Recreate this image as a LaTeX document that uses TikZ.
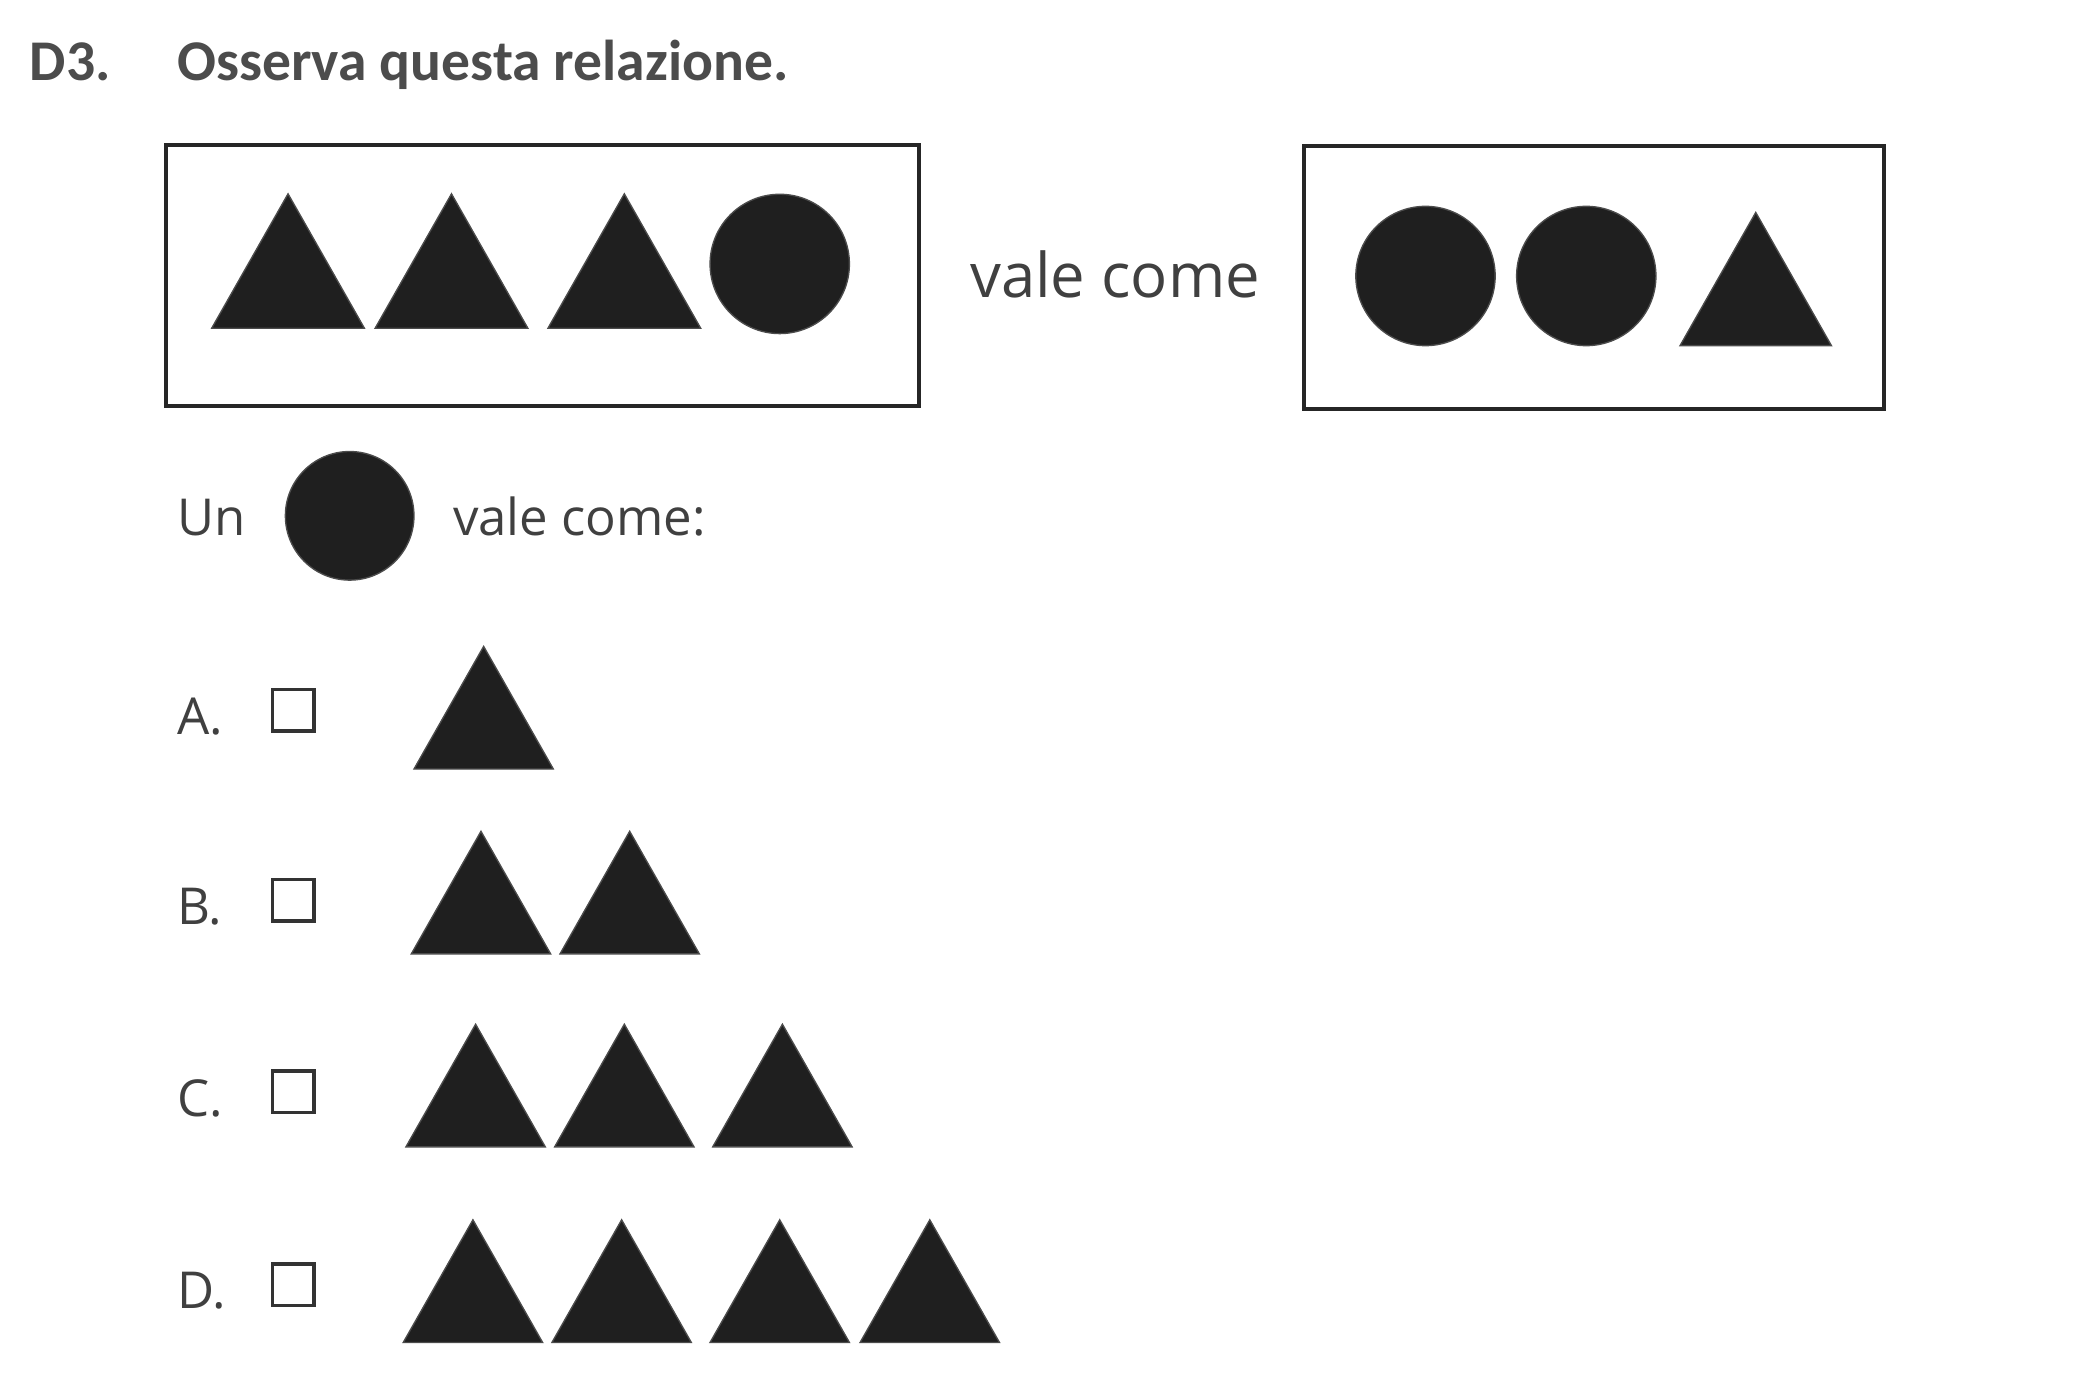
\documentclass[tikz,border=0pt]{standalone}
\usepackage{fontspec}
\setmainfont{Carlito}
\newfontfamily\bodyfont{Open Sans}
\usetikzlibrary{positioning}
\definecolor{txtgray}{HTML}{404040}
\tikzset{
  solid shape/.style={fill=black!88,draw=black!70,line width=1pt},
  frame/.style={draw=black!85,line width=3pt},
  txt/.style={anchor=base west,inner sep=0pt,text=txtgray,font=\bodyfont\fontsize{38}{42}\selectfont},
  title/.style={txt,font=\fontsize{43}{47}\selectfont\bfseries,text=black!70},
  cbox/.style={draw=black!80,line width=2.5pt,minimum size=31pt,inner sep=0pt},
  pics/tri/.style={code={\draw[solid shape] (0,0) -- (#1,0) -- (#1/2,-0.88*#1) -- cycle;}}
}
\begin{document}
\begin{tikzpicture}[x=1pt,y=-1pt]
\useasboundingbox (0,0) rectangle (1560,1037);
% title
\node[title] (num) at (22,60) {D3.};
\node[title] (q) at (132,60) {Osserva questa relazione.};
% relation
\draw[frame] (124,108) rectangle (686,303);
\foreach \x in {158,280,409} \pic at (\x,245) {tri=114};
\draw[solid shape] (582,197) circle (52);
\node[txt,font=\bodyfont\fontsize{46}{50}\selectfont] (vc) at (724,222) {vale come};
\draw[frame] (973,109) rectangle (1406,305);
\foreach \x in {1064,1184} \draw[solid shape] (\x,206) circle (52);
\pic at (1254,258) {tri=113};
% question
\node[txt] (un) at (132,400) {Un};
\draw[solid shape] (261,385) circle (48);
\node[txt] (vc2) at (338,400) {vale come:};
% options
\foreach \l/\y in {A/548,B/690,C/833,D/977}{
  \node[txt] (opt\l) at (132,\y) {\l.};
  \node[cbox] (box\l) at (219,\y-18) {};
}
\pic at (309,574) {tri=104};
\foreach \x in {307,418} \pic at (\x,712) {tri=104};
\foreach \x in {303,414,532} \pic at (\x,856) {tri=104};
\foreach \x in {301,412,530,642} \pic at (\x,1002) {tri=104};
\end{tikzpicture}
\end{document}
